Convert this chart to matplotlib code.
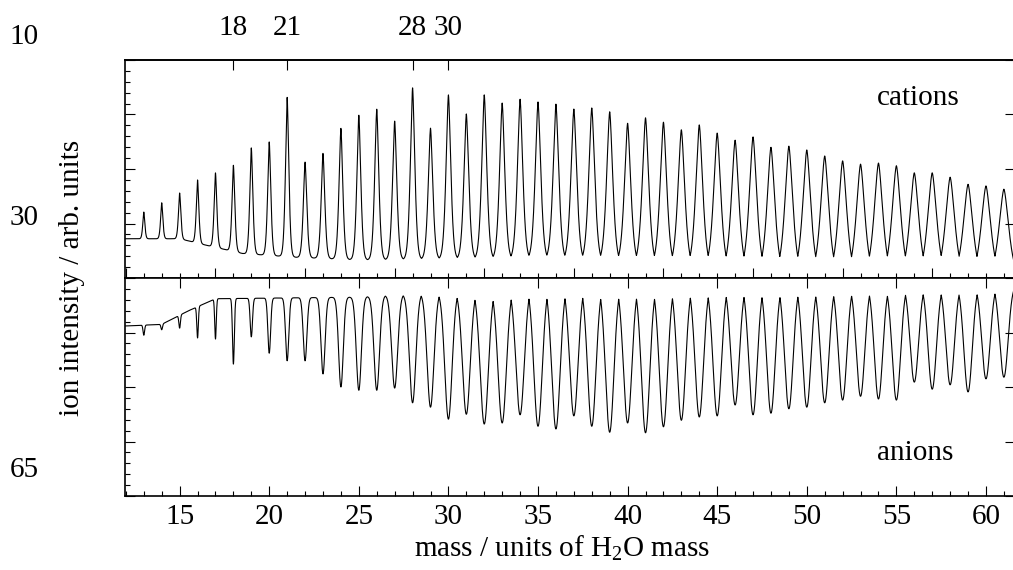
import numpy as np
import matplotlib
matplotlib.use("Agg")
import matplotlib.pyplot as plt
from matplotlib.ticker import MultipleLocator, FixedLocator

plt.rcParams['font.family'] = 'Liberation Serif'
plt.rcParams['mathtext.fontset'] = 'custom'
plt.rcParams['mathtext.rm'] = 'Liberation Serif'

# cluster sizes (units of H2O mass)
masses = np.arange(13, 62)

# cation peak maxima (arb. units, panel scale 0..4)
cation_peaks = [1.21, 1.38, 1.56, 1.80, 1.93, 2.07, 2.39, 2.50, 3.32, 2.13,
                2.29, 2.75, 2.99, 3.10, 2.88, 3.49, 2.75, 3.36, 3.01, 3.36,
                3.21, 3.28, 3.23, 3.19, 3.10, 3.12, 3.05, 2.84, 2.94, 2.86,
                2.72, 2.81, 2.66, 2.53, 2.59, 2.40, 2.42, 2.35, 2.24, 2.15,
                2.09, 2.11, 2.06, 1.93, 1.93, 1.85, 1.72, 1.69, 1.63]

# anion dip minima (arb. units, panel scale 0..4, dips point down)
anion_dips = [2.95, 3.05, 3.08, 2.90, 2.88, 2.42, 2.92, 2.62, 2.48, 2.48,
              2.24, 2.00, 1.94, 1.94, 1.98, 1.71, 1.63, 1.41, 1.50, 1.32,
              1.34, 1.49, 1.28, 1.23, 1.47, 1.28, 1.17, 1.34, 1.16, 1.27,
              1.39, 1.45, 1.47, 1.67, 1.49, 1.52, 1.60, 1.63, 1.71, 1.76,
              1.83, 1.78, 1.76, 2.09, 1.96, 2.04, 1.91, 2.15, 2.18]

# background levels of the two traces
cation_base_mass = [12, 15, 16.5, 18.5, 21.5, 25, 30, 35, 40, 45, 50, 55, 61.6]
cation_base = [0.72, 0.72, 0.60, 0.45, 0.38, 0.33, 0.35, 0.35, 0.28, 0.20, 0.12, 0.08, 0.05]
anion_base_mass = [12, 14, 15.5, 17, 25, 30, 35, 61.6]
anion_base = [3.12, 3.15, 3.40, 3.62, 3.65, 3.75, 3.88, 3.88]

top_marks = [18, 21, 28, 30]
side_labels = ['10', '30', '65']

FS = 21


def spectrum(x, centers, levels, base_m, base_v, fwhm, p, sign):
    base = np.interp(x, base_m, base_v)
    env = np.zeros_like(x)
    for m, v, w in zip(centers, levels, fwhm):
        amp = abs(v - np.interp(m, base_m, base_v))
        env = np.maximum(env, amp * np.exp(-np.log(2) * np.abs(2 * (x - m) / w) ** p))
    return base + sign * env


x = np.linspace(11.95, 61.62, 8000)
cat = spectrum(x, masses, cation_peaks, cation_base_mass, cation_base,
               0.010 * masses, 1.6, 1)
ani = spectrum(x, masses, anion_dips, anion_base_mass, anion_base,
               np.clip(0.03 * (masses - 14), 0.1, 0.55), 2.0, -1)

W, H = 1013, 570
fig = plt.figure(figsize=(W / 100, H / 100), dpi=100)
ax1 = fig.add_axes([125 / W, 1 - 278 / H, 890 / W, 218 / H])
ax2 = fig.add_axes([125 / W, 1 - 496 / H, 890 / W, 218 / H])

ax1.plot(x, cat, color='black', lw=0.8)
ax2.plot(x, ani, color='black', lw=0.8)

for ax in (ax1, ax2):
    ax.set_xlim(11.95, 61.62)
    ax.set_ylim(0, 4)
    ax.yaxis.set_major_locator(MultipleLocator(1))
    ax.yaxis.set_minor_locator(MultipleLocator(0.2))
    ax.xaxis.set_minor_locator(MultipleLocator(1))
    for s in ax.spines.values():
        s.set_linewidth(1.2)
    ax.tick_params(which='both', direction='in', width=0.8, labelleft=False)
    ax.tick_params(which='major', length=7)
    ax.tick_params(which='minor', length=3.5)
    ax.tick_params(axis='y', which='major', right=True)
    ax.tick_params(axis='y', which='minor', right=False)

ax1.xaxis.set_major_locator(FixedLocator(np.arange(12, 62, 5)))
ax1.tick_params(axis='x', labelbottom=False)

ax2.xaxis.set_major_locator(MultipleLocator(5))
ax2.tick_params(axis='x', which='major', top=True, labelsize=FS, pad=6)
ax2.tick_params(axis='x', which='minor', top=False)

sec = ax1.secondary_xaxis('top')
sec.set_xticks(top_marks)
sec.tick_params(direction='in', length=7, width=0.8, pad=14, labelsize=FS)
sec.spines['top'].set_linewidth(1.2)

fig.text(918 / W, 1 - 98 / H, 'cations', ha='center', va='center', fontsize=FS)
fig.text(915 / W, 1 - 453 / H, 'anions', ha='center', va='center', fontsize=FS)

fig.text(72 / W, 1 - 278 / H, 'ion intensity / arb. units', rotation=90,
         ha='center', va='center', fontsize=FS)
fig.text(562 / W, 1 - 548 / H, r'mass / units of H$_\mathrm{2}$O mass',
         ha='center', va='center', fontsize=FS)

for lab, yp in zip(side_labels, [37, 218, 470]):
    fig.text(24 / W, 1 - yp / H, lab, ha='center', va='center', fontsize=FS)

fig.savefig('out.png', dpi=100)
